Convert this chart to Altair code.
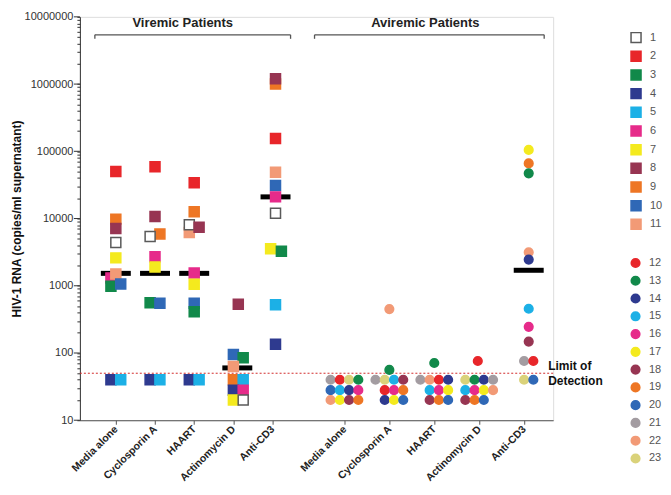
import altair as alt
import pandas as pd
import json

FONT = "Liberation Sans"

treatments = ["Media alone", "Cyclosporin A", "HAART", "Actinomycin D", "Anti-CD3"]

# ---- Viremic patients (squares): (patient, copies/ml, horizontal slot) ----
vir_media = [(2, 50000, 0), (9, 9800, 0), (8, 7100, 0), (1, 4400, 0), (7, 2600, 0),
             (6, 1300, -1), (11, 1500, 0), (3, 980, -1), (10, 1060, 1), (4, 40, -1), (5, 40, 1)]
vir_cyclo = [(2, 59000, 0), (8, 10700, 0), (9, 5900, 1), (1, 5400, -1), (6, 2700, 0),
             (7, 1900, 0), (3, 560, -1), (10, 550, 1), (4, 40, -1), (5, 40, 1)]
vir_haart = [(2, 34000, 0), (9, 12600, 0), (11, 6200, -1), (1, 8100, -1), (8, 7400, 1),
             (6, 1550, 0), (7, 1050, 0), (10, 550, 0), (3, 410, 0), (4, 40, -1), (5, 40, 1)]
vir_actino = [(8, 530, 1), (10, 95, 0), (3, 85, 2), (11, 63, 0), (9, 40, 0), (5, 40, 2),
              (4, 28, 0), (6, 28, 2), (7, 20, 0), (1, 20, 2)]
vir_cd3 = [(9, 1000000, 0.6), (8, 1200000, 0.6), (2, 155000, 0.6), (11, 49000, 0.6),
           (10, 31000, 0.6), (6, 21000, 0.6), (1, 12000, 0.6), (7, 3550, -0.4),
           (3, 3250, 1.8), (5, 520, 0.6), (4, 135, 0.6)]
vir_median = [1530, 1530, 1530, 60, 21000]
vir_median_slot = [0, 0, 0, 0.8, 0.6]

# ---- Aviremic patients (circles) ----
avir_media = [(21, 40, -3), (20, 28, -3), (22, 20, -3), (12, 40, -1), (15, 28, -1), (17, 20, -1),
              (23, 40, 1), (14, 28, 1), (18, 20, 1), (13, 40, 3), (16, 28, 3), (19, 20, 3)]
avir_cyclo = [(21, 40, -3), (23, 40, -1), (12, 28, -1), (14, 20, -1), (15, 40, 1), (16, 28, 1),
              (17, 20, 1), (18, 40, 3), (19, 28, 3), (20, 20, 3), (13, 56, 0), (22, 450, 0)]
avir_haart = [(21, 40, -3), (22, 40, -1), (15, 28, -1), (18, 20, -1), (12, 40, 1), (16, 28, 1),
              (19, 20, 1), (14, 40, 3), (17, 28, 3), (20, 20, 3), (13, 71, 0)]
avir_actino = [(23, 40, -3), (15, 28, -3), (18, 20, -3), (13, 40, -1), (16, 28, -1), (19, 20, -1),
               (14, 40, 1), (17, 28, 1), (20, 20, 1), (21, 40, 3), (22, 28, 3), (12, 76, -0.3)]
avir_cd3 = [(17, 105000, 1), (19, 66000, 1), (13, 47000, 1), (22, 3150, 1), (14, 2450, 1),
            (15, 455, 1), (16, 245, 1), (18, 148, 1), (21, 76, 0), (12, 76, 2),
            (23, 40, 0), (20, 40, 2)]
avir_median = [1700]
avir_median_treat = ["Anti-CD3"]
avir_median_slot = [1]

# ---- patient colours ----
vir_patients = [str(i) for i in range(1, 12)]
vir_fill = ["#ffffff", "#e8262a", "#11894a", "#2e3a8f", "#1cb0e6", "#e62b8a",
            "#f4ea1e", "#973552", "#ee7624", "#2f68b6", "#f29a76"]
vir_stroke = ["#5a5a5a"] + vir_fill[1:]
avir_patients = [str(i) for i in range(12, 24)]
avir_colors = ["#e8262a", "#11894a", "#2e3a8f", "#1cb0e6", "#e62b8a", "#f4ea1e",
               "#973552", "#ee7624", "#2f68b6", "#a39ca1", "#f29a76", "#dad27a"]

y_decades = [10, 100, 1000, 10000, 100000, 1000000, 10000000]
y_ticks = [d * k for d in y_decades[:-1] for k in range(1, 10)] + [y_decades[-1]]
detection_limit = 50

# layout of the category axis (in units of one viremic category step)
GROUP_START = {"vir": 0.0, "avir": 5.834}
GROUP_STEP = {"vir": 1.0, "avir": 1.146}
SLOT_UNIT = {"vir": 0.125, "avir": 0.118}
X_DOMAIN = [-0.917, 11.16]


def frame(groups, grp):
    rows = []
    for t, g in zip(treatments, groups):
        for p, v, s in g:
            rows.append({"treatment": t, "patient": str(p), "value": v, "slot": s, "grp": grp})
    return pd.DataFrame(rows)


df_vir = frame([vir_media, vir_cyclo, vir_haart, vir_actino, vir_cd3], "vir")
df_avir = frame([avir_media, avir_cyclo, avir_haart, avir_actino, avir_cd3], "avir")
df_vmed = pd.DataFrame({"treatment": treatments, "value": vir_median,
                        "slot": vir_median_slot, "grp": "vir"})
df_amed = pd.DataFrame({"treatment": avir_median_treat, "value": avir_median,
                        "slot": avir_median_slot, "grp": "avir"})
df_dec = pd.DataFrame({"value": y_decades})
one = pd.DataFrame({"a": [0]})

T_JSON = json.dumps(treatments)
x_ticks = [GROUP_START[g] + GROUP_STEP[g] * i for g in ("vir", "avir") for i in range(5)]


def pos_expr(grp):
    return (f"{GROUP_START[grp]} + {GROUP_STEP[grp]} * indexof({T_JSON}, datum.treatment)"
            f" + datum.slot * {SLOT_UNIT[grp]}")


is_decade = "abs(log(datum.value)/LN10 - round(log(datum.value)/LN10)) < 0.001"

y_axis = alt.Axis(
    title="HIV-1 RNA (copies/ml supernatant)", values=y_ticks, format="d",
    labelExpr=f"({is_decade}) ? datum.label : ''", labelOverlap=False,
    tickSize=3, labelPadding=4, titlePadding=1, labelFontSize=11, labelColor="#333",
    titleFontSize=12, titleFontWeight="bold", titleColor="#111",
    domainColor="#333", tickColor="#333", grid=False, labelFont=FONT, titleFont=FONT,
)
y_scale = alt.Scale(type="log", domain=[10, 10000000], nice=False)

x_label_expr = (f"datum.value < 5 ? {T_JSON}[round(datum.value)] : "
                f"{T_JSON}[round((datum.value - {GROUP_START['avir']}) / {GROUP_STEP['avir']})]")
x_axis = alt.Axis(title=None, values=x_ticks, labelExpr=x_label_expr,
                  labelAngle=-45, labelAlign="right", labelBaseline="middle",
                  labelFontWeight="bold", labelFontSize=10.5, labelColor="#222", labelFont=FONT,
                  tickSize=4, labelPadding=3, domainColor="#555", tickColor="#555",
                  labelOverlap=False, labelFlush=False, grid=False)
x = alt.X("xpos:Q", scale=alt.Scale(domain=X_DOMAIN, nice=False, zero=False), axis=x_axis)
y = alt.Y("value:Q", scale=y_scale, axis=y_axis)


def legend(shape, size, ly, row_pad):
    return alt.Legend(orient="none", legendX=551, legendY=ly, title=None,
                      symbolType=shape, symbolSize=size, symbolStrokeWidth=1.5,
                      labelFontSize=11, labelColor="#555", labelFont=FONT,
                      rowPadding=row_pad, labelOffset=8, padding=0)


pts_vir = alt.Chart(df_vir).transform_calculate(xpos=pos_expr("vir")).mark_point(
    shape="square", filled=True, size=100, strokeWidth=1.5, opacity=1).encode(
    x=x, y=y,
    fill=alt.Fill("patient:N", scale=alt.Scale(domain=vir_patients, range=vir_fill),
                  legend=legend("square", 100, 14.8, 2.7)),
    stroke=alt.Stroke("patient:N", scale=alt.Scale(domain=vir_patients, range=vir_stroke),
                      legend=legend("square", 100, 14.8, 2.7)),
)
pts_avir = alt.Chart(df_avir).transform_calculate(xpos=pos_expr("avir")).mark_point(
    shape="circle", filled=True, size=75, strokeWidth=1.5, opacity=1).encode(
    x=x, y=y,
    fill=alt.Fill("patient:N", scale=alt.Scale(domain=avir_patients, range=avir_colors),
                  legend=legend("circle", 75, 241, 2.8)),
    stroke=alt.Stroke("patient:N", scale=alt.Scale(domain=avir_patients, range=avir_colors),
                      legend=legend("circle", 75, 241, 2.8)),
)
med_vir = alt.Chart(df_vmed).transform_calculate(xpos=pos_expr("vir")).mark_tick(
    color="black", thickness=5, size=30, opacity=1, orient="horizontal").encode(x=x, y=y)
med_avir = alt.Chart(df_amed).transform_calculate(xpos=pos_expr("avir")).mark_tick(
    color="black", thickness=5, size=30, opacity=1, orient="horizontal").encode(x=x, y=y)
major = alt.Chart(df_dec).mark_rule(color="#333", strokeWidth=1, clip=False).encode(
    x=alt.value(-6), x2=alt.value(0), y=y)
lod = alt.Chart(one).mark_rule(color="#d22c2c", strokeDash=[2, 2], strokeWidth=1).encode(
    y=alt.datum(detection_limit))

annot = []
for bx0, bx1, tx, title in [(15, 211, 103, "Viremic Patients"), (235, 465, 346, "Aviremic Patients")]:
    annot.append(alt.Chart(one).mark_rule(color="#555", strokeWidth=1.3).encode(
        x=alt.value(bx0), x2=alt.value(bx1), y=alt.value(18)))
    annot.append(alt.Chart(one).mark_rule(color="#555", strokeWidth=1.3).encode(
        x=alt.value(bx0), y=alt.value(18), y2=alt.value(22)))
    annot.append(alt.Chart(one).mark_rule(color="#555", strokeWidth=1.3).encode(
        x=alt.value(bx1), y=alt.value(18), y2=alt.value(22)))
    annot.append(alt.Chart(one).mark_text(fontSize=13, fontWeight="bold", font=FONT, color="#222",
                                          baseline="alphabetic", align="center").encode(
        x=alt.value(tx), y=alt.value(10), text=alt.value(title)))

lod_text = alt.Chart(one).mark_text(fontSize=12, fontWeight="bold", font=FONT, color="#111",
                                    align="left", baseline="middle", lineBreak="\n",
                                    lineHeight=15, dy=-7.5).encode(
    x=alt.value(469), y=alt.datum(detection_limit), text=alt.value("Limit of\nDetection"))

chart = alt.layer(major, lod, *annot, med_vir, med_avir, pts_vir, pts_avir, lod_text).resolve_scale(
    fill="independent", stroke="independent"
).properties(
    width=474, height=404, padding={"left": 2, "top": 2.5, "right": 0, "bottom": 0}
).configure_view(stroke=None).configure(font=FONT)

chart.save("out.html", embed_options={"renderer": "svg", "actions": False})
